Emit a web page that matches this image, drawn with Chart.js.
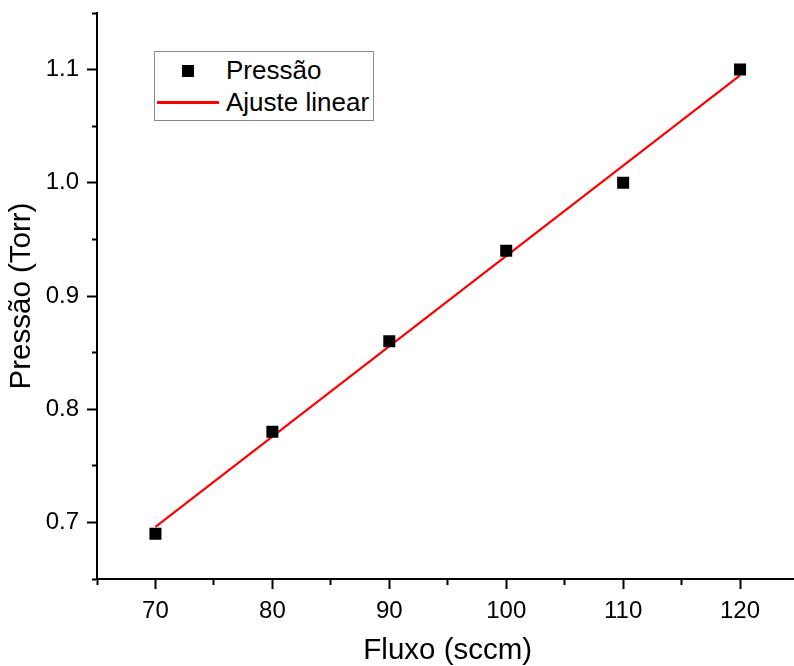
<!DOCTYPE html>
<html>
<head>
<meta charset="utf-8">
<script src="https://cdn.jsdelivr.net/npm/chart.js@4.4.1/dist/chart.umd.min.js"></script>
<style>
  html, body { margin: 0; padding: 0; background: #fff; overflow: hidden; }
  #wrap { position: relative; width: 794px; height: 666px; overflow: hidden; }
  #c { position: absolute; left: 0; top: 0; }
  #legend { position: absolute; left: 154px; top: 51px; width: 220px; height: 70px;
            border: 1px solid #8a8a8a; background: #fff; box-sizing: border-box; }
  .lg-text { position: absolute; font-family: "Liberation Sans", Arial, sans-serif;
             font-size: 26px; line-height: 26px; color: #000; white-space: nowrap; }
  .lg-marker { position: absolute; background: #000; }
  .lg-line { position: absolute; background: #ff0000; }
</style>
</head>
<body>
<div id="wrap">
  <canvas id="c" width="807" height="666"></canvas>
  <div id="legend"></div>
</div>
<script>
// ---- data ----
const fluxo = [70, 80, 90, 100, 110, 120];            // sccm
const pressao = [0.69, 0.78, 0.86, 0.94, 1.00, 1.10]; // Torr
const fitX = [70, 120];
const fitY = [0.696, 1.095];
const xMajorTicks = [70, 80, 90, 100, 110, 120];
const yMajorTicks = [0.7, 0.8, 0.9, 1.0, 1.1];
const seriesLabels = ['Pressão', 'Ajuste linear'];
const xTitle = 'Fluxo (sccm)';
const yTitle = 'Pressão (Torr)';

const FONT = '"Liberation Sans", Arial, sans-serif';

const pts = fluxo.map((x, i) => ({ x: x, y: pressao[i] }));
const fit = fitX.map((x, i) => ({ x: x, y: fitY[i] }));

const isMajorX = v => xMajorTicks.some(t => Math.abs(t - v) < 1e-6);
const isMajorY = v => yMajorTicks.some(t => Math.abs(t - v) < 1e-6);

new Chart(document.getElementById('c'), {
  type: 'scatter',
  data: {
    datasets: [
      {
        label: seriesLabels[0],
        data: pts,
        pointStyle: 'rect',
        pointRadius: 8.5,
        pointHoverRadius: 8.5,
        pointBackgroundColor: '#000',
        pointBorderWidth: 0,
        showLine: false
      },
      {
        label: seriesLabels[1],
        data: fit,
        showLine: true,
        borderColor: '#ff0000',
        borderWidth: 2.2,
        pointRadius: 0,
        fill: false
      }
    ]
  },
  options: {
    responsive: false,
    devicePixelRatio: 1,
    animation: false,
    layout: { padding: { top: 13, left: 0, right: 1, bottom: 0 } },
    plugins: { legend: { display: false }, tooltip: { enabled: false } },
    scales: {
      x: {
        type: 'linear',
        min: 65,
        max: 125,
        afterFit: s => { s.height = 87; s.paddingLeft = 0; s.paddingRight = 0; },
        ticks: {
          stepSize: 5,
          includeBounds: false,
          autoSkip: false,
          maxRotation: 0,
          padding: 8,
          color: '#000',
          font: { family: FONT, size: 24 },
          callback: v => isMajorX(v) ? String(v) : ''
        },
        grid: {
          drawOnChartArea: false,
          drawTicks: true,
          tickLength: 10,
          tickWidth: 2,
          tickColor: '#000',
          tickBorderDash: ctx => (ctx.tick && !isMajorX(ctx.tick.value)) ? [5, 40] : []
        },
        border: { display: true, color: '#000', width: 2 },
        title: {
          display: true,
          text: xTitle,
          color: '#000',
          font: { family: FONT, size: 29.5, lineHeight: 1 },
          padding: { top: 0, bottom: 0 }
        }
      },
      y: {
        type: 'linear',
        min: 0.65,
        max: 1.15,
        afterFit: s => { s.width = 97; s.paddingTop = 0; s.paddingBottom = 0; },
        ticks: {
          stepSize: 0.05,
          includeBounds: false,
          autoSkip: false,
          padding: 8,
          color: '#000',
          font: { family: FONT, size: 24 },
          callback: v => isMajorY(v) ? v.toFixed(1) : ''
        },
        grid: {
          drawOnChartArea: false,
          drawTicks: true,
          tickLength: 10,
          tickWidth: 2,
          tickColor: '#000',
          tickBorderDash: ctx => (ctx.tick && !isMajorY(ctx.tick.value)) ? [0, 5, 5, 40] : []
        },
        border: { display: true, color: '#000', width: 2 },
        title: {
          display: true,
          text: yTitle,
          color: '#000',
          font: { family: FONT, size: 29.5, lineHeight: 1 },
          padding: { top: 7, bottom: 0 }
        }
      }
    }
  }
});

// ---- legend (box inside the plot, as in the reference) ----
const lg = document.getElementById('legend');
function add(cls, css, text) {
  const d = document.createElement('div');
  d.className = cls;
  Object.assign(d.style, css);
  if (text) d.textContent = text;
  lg.appendChild(d);
}
// coordinates relative to the legend box (left 154, top 51)
add('lg-marker', { left: '27px', top: '13px', width: '12px', height: '12px' });
add('lg-text', { left: '71px', top: '5px' }, seriesLabels[0]);
add('lg-line', { left: '2px', top: '49px', width: '62px', height: '2.5px' });
add('lg-text', { left: '71px', top: '37px' }, seriesLabels[1]);
</script>
</body>
</html>
